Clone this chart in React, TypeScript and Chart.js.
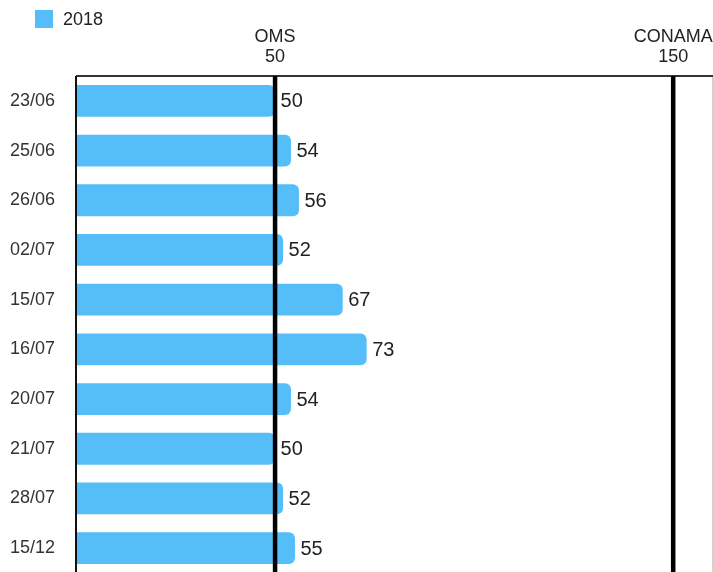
import React, { useEffect, useRef } from 'react';
import { Chart, registerables } from 'chart.js';

Chart.register(...registerables);

const categories = ['23/06', '25/06', '26/06', '02/07', '15/07', '16/07', '20/07', '21/07', '28/07', '15/12'];
const values2018 = [50, 54, 56, 52, 67, 73, 54, 50, 52, 55];
const seriesLabel = '2018';
const thresholdNames = ['OMS', 'CONAMA'];
const thresholdValues = [50, 150];
const xMin = 0;
const xMax = 160;

const FONT = '"Liberation Sans", Arial, Helvetica, sans-serif';
const BAR_COLOR = '#55BEF9';

const overlayPlugin = {
  id: 'overlay',
  afterDatasetsDraw(chart: any) {
    const { ctx, chartArea: a, scales } = chart;
    const x = scales.x;
    ctx.save();
    // frame
    ctx.strokeStyle = '#d0d0d0';
    ctx.lineWidth = 1;
    ctx.beginPath();
    ctx.moveTo(a.right - 0.5, a.top);
    ctx.lineTo(a.right - 0.5, a.bottom);
    ctx.stroke();
    ctx.strokeStyle = '#333';
    ctx.lineWidth = 2;
    ctx.beginPath();
    ctx.moveTo(a.left, a.top);
    ctx.lineTo(a.right, a.top);
    ctx.stroke();
    ctx.strokeStyle = '#111';
    ctx.beginPath();
    ctx.moveTo(a.left, a.top);
    ctx.lineTo(a.left, a.bottom);
    ctx.stroke();

    // threshold lines + labels
    thresholdValues.forEach((v, i) => {
      const px = x.getPixelForValue(v);
      ctx.strokeStyle = '#000';
      ctx.lineWidth = 4.5;
      ctx.beginPath();
      ctx.moveTo(px, a.top);
      ctx.lineTo(px, a.bottom);
      ctx.stroke();
      ctx.fillStyle = '#222';
      ctx.font = `18px ${FONT}`;
      ctx.textAlign = 'center';
      ctx.textBaseline = 'middle';
      ctx.fillText(thresholdNames[i], px, 37);
      ctx.fillText(String(v), px, 57);
    });

    // value labels
    const meta = chart.getDatasetMeta(0);
    ctx.font = `20px ${FONT}`;
    ctx.textAlign = 'left';
    ctx.textBaseline = 'middle';
    ctx.fillStyle = '#222';
    meta.data.forEach((bar: any, i: number) => {
      ctx.fillText(String(values2018[i]), bar.x + 5.5, bar.y + 1);
    });

    // legend
    ctx.fillStyle = BAR_COLOR;
    ctx.fillRect(35, 10, 18, 18);
    ctx.fillStyle = '#222';
    ctx.font = `18px ${FONT}`;
    ctx.textAlign = 'left';
    ctx.textBaseline = 'middle';
    ctx.fillText(seriesLabel, 63, 20);
    ctx.restore();
  },
};

export default function App() {
  const ref = useRef<HTMLCanvasElement>(null);

  useEffect(() => {
    document.body.style.margin = '0';
    const canvas = ref.current;
    if (!canvas) return;
    const chart = new Chart(canvas, {
      type: 'bar',
      data: {
        labels: categories,
        datasets: [
          {
            label: seriesLabel,
            data: values2018,
            backgroundColor: BAR_COLOR,
            borderWidth: 0,
            borderRadius: 6,
            borderSkipped: 'start',
            categoryPercentage: 0.8,
            barPercentage: 0.8,
          },
        ],
      },
      options: {
        indexAxis: 'y',
        responsive: false,
        animation: false,
        devicePixelRatio: 1,
        layout: { padding: { top: 76, bottom: 17, left: 0, right: 0 } },
        plugins: {
          legend: { display: false },
          tooltip: { enabled: false },
        },
        scales: {
          x: {
            display: false,
            min: xMin,
            max: xMax,
          },
          y: {
            grid: { display: false, drawTicks: false },
            border: { display: false },
            ticks: {
              padding: 21,
              color: '#333',
              font: { family: FONT, size: 18 },
            },
            afterFit: (scale: any) => {
              scale.width = 76;
              scale.paddingTop = 0;
              scale.paddingBottom = 0;
            },
          },
        },
      },
      plugins: [overlayPlugin],
    } as any);
    return () => chart.destroy();
  }, []);

  return (
    <div style={{ width: 713, height: 572, overflow: 'hidden' }}>
      <canvas ref={ref} width={713} height={590} style={{ display: 'block' }} />
    </div>
  );
}
